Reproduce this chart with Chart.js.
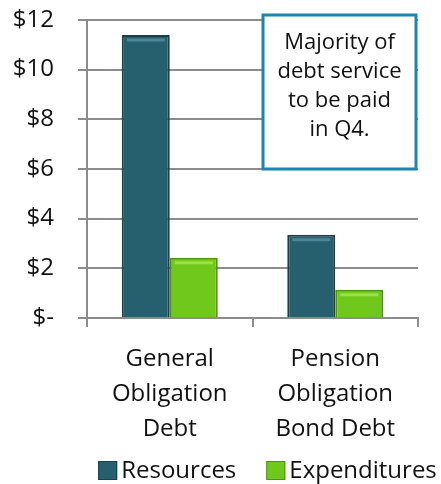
<!DOCTYPE html>
<html>
<head>
<meta charset="utf-8">
<script src="https://cdn.jsdelivr.net/npm/chart.js@4"></script>
<style>
  html, body { margin: 0; padding: 0; background: #fff; }
  #wrap { width: 441px; height: 484px; }
</style>
</head>
<body>
<div id="wrap"><canvas id="debtChart"></canvas></div>
<script>
// chart data
const categories = [['General', 'Obligation', 'Debt'], ['Pension', 'Obligation', 'Bond Debt']];
const resources = [11.4, 3.35];
const expenditures = [2.42, 1.13];
const yTicks = [0, 2, 4, 6, 8, 10, 12];
const noteLines = ['Majority of', 'debt service', 'to be paid', 'in Q4.'];

const fontFamily = '"Open Sans", "DejaVu Sans", sans-serif';
const highlights = ['#4d8595', '#9ae04e'];

// Light strip near the top of each bar, like the bevelled Excel bars
const bevelPlugin = {
    id: 'bevel',
    afterDatasetsDraw(chart) {
        const ctx = chart.ctx;
        ctx.save();
        chart.data.datasets.forEach((ds, i) => {
            chart.getDatasetMeta(i).data.forEach(bar => {
                const left = bar.x - bar.width / 2;
                const right = bar.x + bar.width / 2;
                ctx.strokeStyle = highlights[i];
                ctx.lineWidth = 3;
                ctx.beginPath();
                ctx.moveTo(left + 5, bar.y + 5);
                ctx.lineTo(right - 5, bar.y + 5);
                ctx.stroke();
            });
        });
        ctx.restore();
    }
};

// Text box in the upper right corner
const notePlugin = {
    id: 'noteBox',
    afterDraw(chart) {
        const ctx = chart.ctx;
        const area = chart.chartArea;
        const w = 153, h = 154;
        const x = area.right - 2 - w;
        const y = area.top - 5;
        ctx.save();
        ctx.fillStyle = '#fff';
        ctx.fillRect(x, y, w, h);
        ctx.strokeStyle = '#1a86b0';
        ctx.lineWidth = 3;
        ctx.strokeRect(x, y, w, h);
        ctx.fillStyle = '#111';
        ctx.font = '22px ' + fontFamily;
        ctx.textAlign = 'center';
        ctx.textBaseline = 'middle';
        noteLines.forEach((line, i) => {
            ctx.fillText(line, x + w / 2, y + 28 + i * 29);
        });
        ctx.restore();
    }
};

// Legend drawn below the axis labels
const legendPlugin = {
    id: 'customLegend',
    afterDraw(chart) {
        const ctx = chart.ctx;
        ctx.save();
        ctx.font = '24px ' + fontFamily;
        ctx.textBaseline = 'middle';
        ctx.textAlign = 'left';
        const items = chart.data.datasets.map(ds => ({
            label: ds.label, color: ds.backgroundColor, edge: ds.borderColor,
            w: 24 + ctx.measureText(ds.label).width
        }));
        const gap = 29;
        const total = items.reduce((s, it) => s + it.w, 0) + gap * (items.length - 1);
        let x = 268 - total / 2;
        const y = 470;
        items.forEach(it => {
            ctx.fillStyle = it.color;
            ctx.fillRect(x, y - 9, 19, 19);
            ctx.strokeStyle = it.edge;
            ctx.lineWidth = 1;
            ctx.strokeRect(x + 0.5, y - 8.5, 18, 18);
            ctx.fillStyle = '#111';
            ctx.fillText(it.label, x + 23, y + 1);
            x += it.w + gap;
        });
        ctx.restore();
    }
};

const ctx = document.getElementById('debtChart').getContext('2d');
const debtChart = new Chart(ctx, {
    type: 'bar',
    data: {
        labels: categories,
        datasets: [{
            label: 'Resources',
            data: resources,
            backgroundColor: '#26606f',
            borderColor: '#17404b',
            borderWidth: 2,
        }, {
            label: 'Expenditures',
            data: expenditures,
            backgroundColor: '#70c81c',
            borderColor: '#4e930f',
            borderWidth: 2,
        }]
    },
    options: {
        responsive: true,
        maintainAspectRatio: false,
        animation: false,
        layout: { padding: { top: 8, right: 23, left: 0, bottom: 22 } },
        datasets: {
            bar: { categoryPercentage: 0.58, barPercentage: 1.0 }
        },
        scales: {
            x: {
                grid: { offset: true, drawOnChartArea: false, color: '#8c8c8c', lineWidth: 2, tickLength: 9 },
                border: { color: '#8c8c8c', width: 2 },
                ticks: {
                    color: '#111',
                    font: { family: fontFamily, size: 24, lineHeight: 1.46 },
                    padding: 15,
                    maxRotation: 0,
                }
            },
            y: {
                min: 0,
                max: 12,
                afterBuildTicks(scale) {
                    scale.ticks = yTicks.map(v => ({ value: v }));
                },
                afterFit(scale) {
                    scale.width = 87;
                    scale.paddingTop = 20;
                    scale.paddingBottom = 0;
                },
                grid: { color: '#8c8c8c', lineWidth: 2, tickLength: 9 },
                border: { color: '#8c8c8c', width: 2 },
                ticks: {
                    color: '#111',
                    font: { family: fontFamily, size: 24 },
                    padding: 24,
                    callback: v => v === 0 ? '$-' : '$' + v,
                }
            }
        },
        plugins: {
            legend: { display: false },
            tooltip: { enabled: false }
        }
    },
    plugins: [bevelPlugin, notePlugin, legendPlugin]
});
</script>
</body>
</html>
